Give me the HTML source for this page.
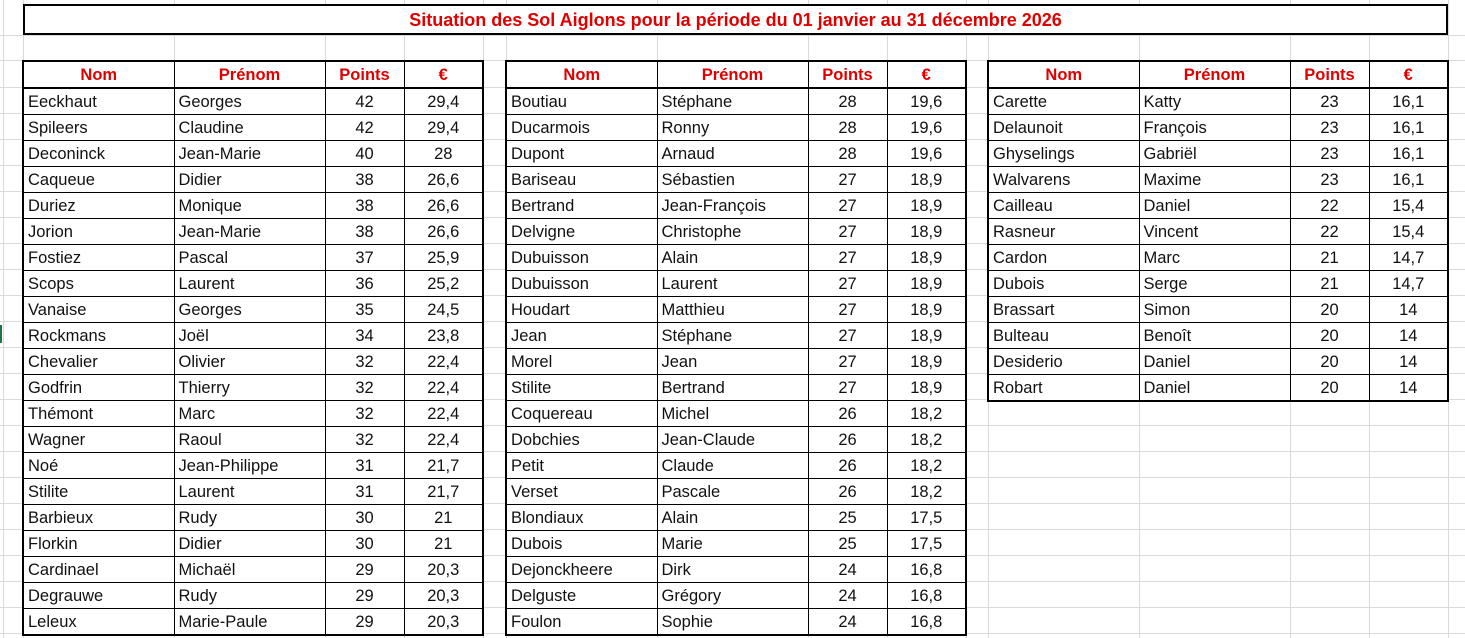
<!DOCTYPE html>
<html><head><meta charset="utf-8"><style>
html,body{margin:0;padding:0;background:#fff;}
body{width:1465px;height:638px;position:relative;overflow:hidden;font-family:"Liberation Sans",sans-serif;}
#grid{position:absolute;left:0;top:0;}
.title{position:absolute;left:23px;top:4px;width:1421px;height:27px;border:2px solid #000;background:#fff;color:#e00000;font-weight:bold;font-size:18px;text-align:center;line-height:28px;}
table{position:absolute;top:60px;border-collapse:collapse;table-layout:fixed;background:#fff;border:2px solid #000;font-size:16.5px;}
td{border:1px solid #000;height:23px;padding:2px 0 0 4px;white-space:nowrap;overflow:hidden;line-height:23px;color:#111;}
td.n{text-align:center;padding:2px 0 0 0;}
th{border:1px solid #000;border-bottom:2px solid #000;height:23px;line-height:23px;color:#e00000;font-weight:bold;font-size:16.5px;padding:2px 0 0 0;}
</style></head><body>
<svg id="grid" width="1465" height="638">
<g stroke="#dadada" stroke-width="1">
<line x1="3.5" y1="0" x2="3.5" y2="638"/>
<line x1="23.5" y1="0" x2="23.5" y2="638"/>
<line x1="174.5" y1="0" x2="174.5" y2="638"/>
<line x1="325.5" y1="0" x2="325.5" y2="638"/>
<line x1="404.5" y1="0" x2="404.5" y2="638"/>
<line x1="483.5" y1="0" x2="483.5" y2="638"/>
<line x1="506.5" y1="0" x2="506.5" y2="638"/>
<line x1="657.5" y1="0" x2="657.5" y2="638"/>
<line x1="808.5" y1="0" x2="808.5" y2="638"/>
<line x1="887.5" y1="0" x2="887.5" y2="638"/>
<line x1="966.5" y1="0" x2="966.5" y2="638"/>
<line x1="988.5" y1="0" x2="988.5" y2="638"/>
<line x1="1139.5" y1="0" x2="1139.5" y2="638"/>
<line x1="1290.5" y1="0" x2="1290.5" y2="638"/>
<line x1="1369.5" y1="0" x2="1369.5" y2="638"/>
<line x1="1448.5" y1="0" x2="1448.5" y2="638"/>
<line x1="0" y1="35.5" x2="1465" y2="35.5"/>
<line x1="0" y1="60.5" x2="1465" y2="60.5"/>
<line x1="0" y1="87.5" x2="1465" y2="87.5"/>
<line x1="0" y1="113.5" x2="1465" y2="113.5"/>
<line x1="0" y1="139.5" x2="1465" y2="139.5"/>
<line x1="0" y1="165.5" x2="1465" y2="165.5"/>
<line x1="0" y1="191.5" x2="1465" y2="191.5"/>
<line x1="0" y1="217.5" x2="1465" y2="217.5"/>
<line x1="0" y1="243.5" x2="1465" y2="243.5"/>
<line x1="0" y1="269.5" x2="1465" y2="269.5"/>
<line x1="0" y1="295.5" x2="1465" y2="295.5"/>
<line x1="0" y1="321.5" x2="1465" y2="321.5"/>
<line x1="0" y1="347.5" x2="1465" y2="347.5"/>
<line x1="0" y1="373.5" x2="1465" y2="373.5"/>
<line x1="0" y1="399.5" x2="1465" y2="399.5"/>
<line x1="0" y1="425.5" x2="1465" y2="425.5"/>
<line x1="0" y1="451.5" x2="1465" y2="451.5"/>
<line x1="0" y1="477.5" x2="1465" y2="477.5"/>
<line x1="0" y1="503.5" x2="1465" y2="503.5"/>
<line x1="0" y1="529.5" x2="1465" y2="529.5"/>
<line x1="0" y1="555.5" x2="1465" y2="555.5"/>
<line x1="0" y1="581.5" x2="1465" y2="581.5"/>
<line x1="0" y1="607.5" x2="1465" y2="607.5"/>
<line x1="0" y1="633.5" x2="1465" y2="633.5"/>
</g>
<rect x="0" y="325" width="2" height="18" fill="#217346"/>
</svg>
<div class="title">Situation des Sol Aiglons pour la période du 01 janvier au 31 décembre 2026</div>

<table style="left:22px;width:462px">
<colgroup><col style="width:151px"><col style="width:151px"><col style="width:79px"><col style="width:79px"></colgroup>
<tr><th>Nom</th><th>Prénom</th><th>Points</th><th>€</th></tr>
<tr><td>Eeckhaut</td><td>Georges</td><td class="n">42</td><td class="n">29,4</td></tr>
<tr><td>Spileers</td><td>Claudine</td><td class="n">42</td><td class="n">29,4</td></tr>
<tr><td>Deconinck</td><td>Jean-Marie</td><td class="n">40</td><td class="n">28</td></tr>
<tr><td>Caqueue</td><td>Didier</td><td class="n">38</td><td class="n">26,6</td></tr>
<tr><td>Duriez</td><td>Monique</td><td class="n">38</td><td class="n">26,6</td></tr>
<tr><td>Jorion</td><td>Jean-Marie</td><td class="n">38</td><td class="n">26,6</td></tr>
<tr><td>Fostiez</td><td>Pascal</td><td class="n">37</td><td class="n">25,9</td></tr>
<tr><td>Scops</td><td>Laurent</td><td class="n">36</td><td class="n">25,2</td></tr>
<tr><td>Vanaise</td><td>Georges</td><td class="n">35</td><td class="n">24,5</td></tr>
<tr><td>Rockmans</td><td>Joël</td><td class="n">34</td><td class="n">23,8</td></tr>
<tr><td>Chevalier</td><td>Olivier</td><td class="n">32</td><td class="n">22,4</td></tr>
<tr><td>Godfrin</td><td>Thierry</td><td class="n">32</td><td class="n">22,4</td></tr>
<tr><td>Thémont</td><td>Marc</td><td class="n">32</td><td class="n">22,4</td></tr>
<tr><td>Wagner</td><td>Raoul</td><td class="n">32</td><td class="n">22,4</td></tr>
<tr><td>Noé</td><td>Jean-Philippe</td><td class="n">31</td><td class="n">21,7</td></tr>
<tr><td>Stilite</td><td>Laurent</td><td class="n">31</td><td class="n">21,7</td></tr>
<tr><td>Barbieux</td><td>Rudy</td><td class="n">30</td><td class="n">21</td></tr>
<tr><td>Florkin</td><td>Didier</td><td class="n">30</td><td class="n">21</td></tr>
<tr><td>Cardinael</td><td>Michaël</td><td class="n">29</td><td class="n">20,3</td></tr>
<tr><td>Degrauwe</td><td>Rudy</td><td class="n">29</td><td class="n">20,3</td></tr>
<tr><td>Leleux</td><td>Marie-Paule</td><td class="n">29</td><td class="n">20,3</td></tr>
</table>

<table style="left:505px;width:462px">
<colgroup><col style="width:151px"><col style="width:151px"><col style="width:79px"><col style="width:79px"></colgroup>
<tr><th>Nom</th><th>Prénom</th><th>Points</th><th>€</th></tr>
<tr><td>Boutiau</td><td>Stéphane</td><td class="n">28</td><td class="n">19,6</td></tr>
<tr><td>Ducarmois</td><td>Ronny</td><td class="n">28</td><td class="n">19,6</td></tr>
<tr><td>Dupont</td><td>Arnaud</td><td class="n">28</td><td class="n">19,6</td></tr>
<tr><td>Bariseau</td><td>Sébastien</td><td class="n">27</td><td class="n">18,9</td></tr>
<tr><td>Bertrand</td><td>Jean-François</td><td class="n">27</td><td class="n">18,9</td></tr>
<tr><td>Delvigne</td><td>Christophe</td><td class="n">27</td><td class="n">18,9</td></tr>
<tr><td>Dubuisson</td><td>Alain</td><td class="n">27</td><td class="n">18,9</td></tr>
<tr><td>Dubuisson</td><td>Laurent</td><td class="n">27</td><td class="n">18,9</td></tr>
<tr><td>Houdart</td><td>Matthieu</td><td class="n">27</td><td class="n">18,9</td></tr>
<tr><td>Jean</td><td>Stéphane</td><td class="n">27</td><td class="n">18,9</td></tr>
<tr><td>Morel</td><td>Jean</td><td class="n">27</td><td class="n">18,9</td></tr>
<tr><td>Stilite</td><td>Bertrand</td><td class="n">27</td><td class="n">18,9</td></tr>
<tr><td>Coquereau</td><td>Michel</td><td class="n">26</td><td class="n">18,2</td></tr>
<tr><td>Dobchies</td><td>Jean-Claude</td><td class="n">26</td><td class="n">18,2</td></tr>
<tr><td>Petit</td><td>Claude</td><td class="n">26</td><td class="n">18,2</td></tr>
<tr><td>Verset</td><td>Pascale</td><td class="n">26</td><td class="n">18,2</td></tr>
<tr><td>Blondiaux</td><td>Alain</td><td class="n">25</td><td class="n">17,5</td></tr>
<tr><td>Dubois</td><td>Marie</td><td class="n">25</td><td class="n">17,5</td></tr>
<tr><td>Dejonckheere</td><td>Dirk</td><td class="n">24</td><td class="n">16,8</td></tr>
<tr><td>Delguste</td><td>Grégory</td><td class="n">24</td><td class="n">16,8</td></tr>
<tr><td>Foulon</td><td>Sophie</td><td class="n">24</td><td class="n">16,8</td></tr>
</table>

<table style="left:987px;width:462px">
<colgroup><col style="width:151px"><col style="width:151px"><col style="width:79px"><col style="width:79px"></colgroup>
<tr><th>Nom</th><th>Prénom</th><th>Points</th><th>€</th></tr>
<tr><td>Carette</td><td>Katty</td><td class="n">23</td><td class="n">16,1</td></tr>
<tr><td>Delaunoit</td><td>François</td><td class="n">23</td><td class="n">16,1</td></tr>
<tr><td>Ghyselings</td><td>Gabriël</td><td class="n">23</td><td class="n">16,1</td></tr>
<tr><td>Walvarens</td><td>Maxime</td><td class="n">23</td><td class="n">16,1</td></tr>
<tr><td>Cailleau</td><td>Daniel</td><td class="n">22</td><td class="n">15,4</td></tr>
<tr><td>Rasneur</td><td>Vincent</td><td class="n">22</td><td class="n">15,4</td></tr>
<tr><td>Cardon</td><td>Marc</td><td class="n">21</td><td class="n">14,7</td></tr>
<tr><td>Dubois</td><td>Serge</td><td class="n">21</td><td class="n">14,7</td></tr>
<tr><td>Brassart</td><td>Simon</td><td class="n">20</td><td class="n">14</td></tr>
<tr><td>Bulteau</td><td>Benoît</td><td class="n">20</td><td class="n">14</td></tr>
<tr><td>Desiderio</td><td>Daniel</td><td class="n">20</td><td class="n">14</td></tr>
<tr><td>Robart</td><td>Daniel</td><td class="n">20</td><td class="n">14</td></tr>
</table>
</body></html>
